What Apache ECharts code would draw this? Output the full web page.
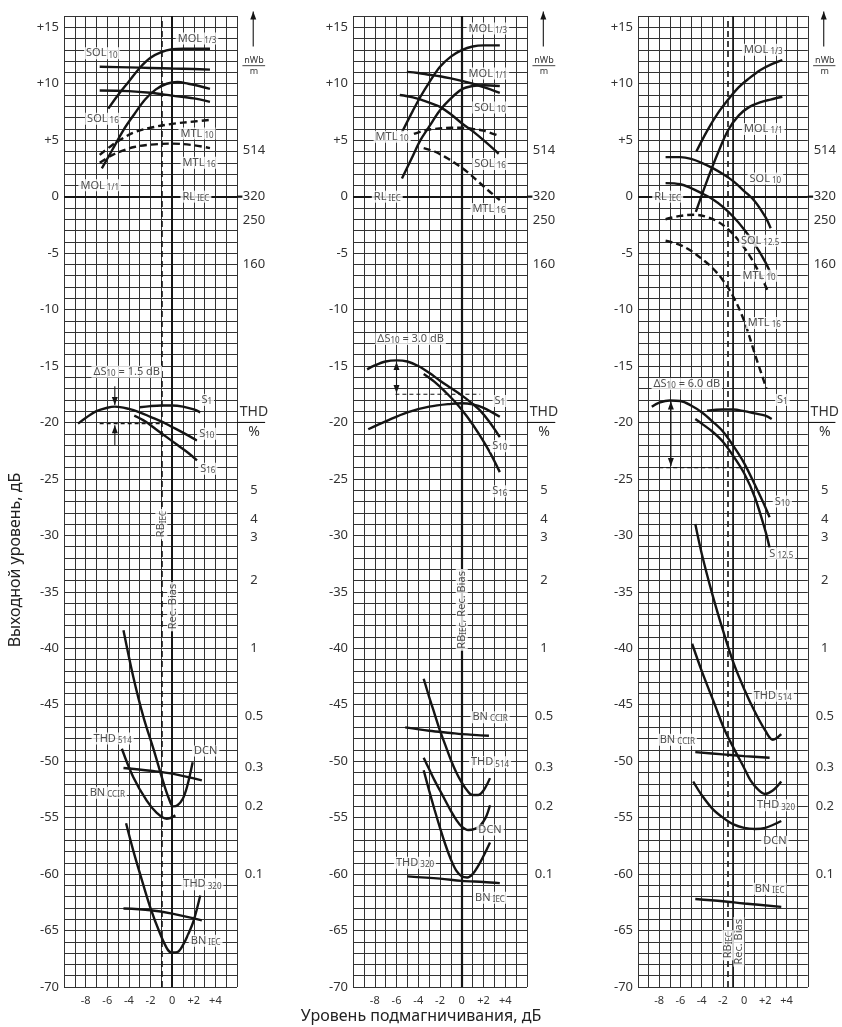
<!DOCTYPE html>
<html>
<head>
<meta charset="utf-8">
<script src="https://cdn.jsdelivr.net/npm/echarts@6/dist/echarts.min.js"></script>
<style>
html, body { margin: 0; padding: 0; background: #fff; }
#chart { width: 842px; height: 1027px; }
</style>
</head>
<body>
<div id="chart"></div>
<script>
// ---- data (dB of bias vs output level) ----
// panel 1
const p1Mol13 = [[-5.9,7.8],[-5,9],[-4,10.2],[-3,11.4],[-2,12.3],[-1,12.8],[0,13.05],[1,13.1],[2,13.1],[3.5,13.1]];
const p1Sol10 = [[-6.7,11.5],[-4,11.45],[-2,11.4],[0,11.35],[2,11.3],[3.5,11.25]];
const p1Sol16 = [[-6.7,9.4],[-4,9.35],[-2,9.2],[0,8.95],[2,8.7],[3.5,8.4]];
const p1Mol11 = [[-6.5,2.5],[-5.5,4.2],[-4.5,5.9],[-3.5,7.3],[-2.5,8.6],[-1.5,9.5],[-0.5,10.0],[0.5,10.15],[1.5,10.0],[2.5,9.8],[3.5,9.55]];
const p1Mtl10 = [[-6.7,3.7],[-5.5,4.6],[-4.5,5.2],[-3.5,5.7],[-2,6.1],[0,6.45],[2,6.65],[3.5,6.8]];
const p1Mtl16 = [[-6.7,3.0],[-5.5,3.7],[-4.5,4.1],[-3.5,4.4],[-2,4.6],[0,4.7],[2,4.55],[3.5,4.3]];
const p1S1 = [[-3,-18.65],[-2,-18.55],[-1,-18.5],[0,-18.5],[1,-18.6],[2,-18.85],[2.6,-19.1]];
const p1S10 = [[-8.7,-20.1],[-8,-19.6],[-7,-19.0],[-6,-18.7],[-5.3,-18.6],[-4,-18.8],[-3,-19.1],[-2,-19.5],[-1,-19.9],[0,-20.4],[1,-20.9],[2.3,-21.6]];
const p1S16 = [[-3.5,-19.4],[-2.5,-19.9],[-1.5,-20.6],[-0.5,-21.3],[0.5,-22.0],[1.5,-22.7],[2.3,-23.35]];
const p1Thd514 = [[-4.5,-38.4],[-3.6,-42.5],[-2.65,-46.1],[-1.7,-49.0],[-0.8,-51.9],[-0.3,-53.3],[0.1,-54.0],[0.5,-53.9],[1.0,-53.3],[1.4,-52.2],[1.9,-50.1]];
const p1Dcn = [[-4.65,-48.9],[-3.6,-51.4],[-2.35,-53.5],[-1.4,-54.6],[-0.5,-55.1],[0.3,-54.8]];
const p1BnCcir = [[-4.5,-50.6],[-2,-50.85],[0,-51.1],[2.75,-51.7]];
const p1Thd320 = [[-4.26,-55.5],[-3.6,-57.9],[-2.96,-60],[-2.04,-62.9],[-1.1,-65.3],[-0.4,-66.7],[0,-66.95],[0.5,-66.9],[1.05,-66.2],[1.5,-65.3],[2.0,-64.1],[2.6,-61.9]];
const p1BnIec = [[-4.5,-63.05],[-2,-63.2],[0,-63.5],[2.75,-64.1]];

// panel 2
const p2Mol13 = [[-5.5,5.7],[-4.5,7.6],[-3.8,8.85],[-3,10.1],[-2,11.5],[-1,12.4],[0,12.97],[1,13.3],[2,13.4],[3.5,13.4]];
const p2Mol11 = [[-5.5,1.6],[-4.5,3.6],[-3.8,5.0],[-3,6.2],[-2,7.65],[-1,8.7],[0,9.5],[1,9.8],[2,9.87],[3.5,9.8]];
const p2Sol10 = [[-5.05,11.05],[-4,10.95],[-3,10.8],[-2,10.66],[-1,10.47],[0,10.25],[1,10.0],[2,9.7],[3.5,9.2]];
const p2Sol16 = [[-5.7,9.0],[-4.5,8.8],[-3.5,8.5],[-2.5,8.15],[-2,7.95],[-1,7.3],[0,6.5],[1,5.8],[2,5.0],[3.4,3.8]];
const p2Mtl10 = [[-4.4,5.55],[-3.5,5.85],[-2.5,6.0],[-1,6.1],[0,6.1],[1,6.0],[2,5.85],[3.5,5.35]];
const p2Mtl16 = [[-3.5,4.3],[-2.5,4.0],[-1.5,3.5],[-0.5,2.9],[0.5,2.2],[1.5,1.35],[2.5,0.5],[3.5,-0.3]];
const p2S1 = [[-8.6,-20.6],[-7,-19.9],[-5,-19.1],[-3,-18.6],[-1,-18.35],[0,-18.3],[1,-18.4],[2,-18.7],[3.5,-19.5]];
const p2S10 = [[-8.7,-15.3],[-8,-14.95],[-7,-14.6],[-6,-14.5],[-5,-14.6],[-4,-15.0],[-3,-15.6],[-2,-16.3],[-1,-16.95],[0,-17.6],[1,-18.35],[1.7,-18.95],[2.5,-19.9],[3.5,-21.3]];
const p2S16 = [[-3.5,-15.7],[-2.5,-16.4],[-1.5,-17.3],[-0.5,-18.3],[0.5,-19.5],[1.5,-20.9],[2.5,-22.5],[3.5,-24.4]];
const p2BnCcir = [[-5.2,-47.0],[-3,-47.3],[-1,-47.5],[0,-47.6],[2.5,-47.75]];
const p2Thd514 = [[-3.5,-42.7],[-3,-44.3],[-2.5,-45.8],[-2,-47.3],[-1.5,-48.6],[-1,-49.9],[-0.5,-51.0],[0,-51.9],[0.5,-52.6],[1,-53.0],[1.5,-53.0],[2,-52.6],[2.6,-51.5]];
const p2Dcn = [[-3.5,-49.7],[-3,-50.7],[-2.5,-51.7],[-2,-52.6],[-1.5,-53.5],[-1,-54.4],[-0.5,-55.2],[0,-55.8],[0.6,-56.1],[1.2,-56.0],[1.7,-55.7],[2.2,-55.0],[2.6,-53.9]];
const p2Thd320 = [[-3.5,-50.8],[-3,-52.6],[-2.5,-54.3],[-2,-55.9],[-1.5,-57.4],[-1,-58.7],[-0.5,-59.7],[0,-60.2],[0.5,-60.3],[1,-60.0],[1.5,-59.3],[2,-58.4],[2.6,-57.2]];
const p2BnIec = [[-5,-60.2],[-2,-60.4],[0,-60.6],[2,-60.7],[3.5,-60.8]];

// panel 3
const p3Mol13 = [[-4.5,4.0],[-3.5,5.8],[-2.5,7.35],[-1.5,8.6],[-0.5,9.7],[0.5,10.5],[1.5,11.2],[2.5,11.7],[3.6,12.1]];
const p3Mol11 = [[-4.55,-1.35],[-3.5,1.4],[-2.5,3.8],[-1.5,5.9],[-0.5,7.2],[0.5,7.95],[1.5,8.35],[2.5,8.6],[3.6,8.85]];
const p3Sol10 = [[-7.4,3.5],[-6,3.5],[-5,3.35],[-4,3.0],[-3,2.55],[-2,2.0],[-1,1.35],[0,0.5],[1,-0.4],[2,-1.8],[2.5,-2.8]];
const p3Sol125 = [[-7.4,1.2],[-6,1.1],[-5,0.75],[-4,0.3],[-3,-0.2],[-2,-0.9],[-1,-1.8],[0,-2.9],[1,-4.2],[2,-5.8],[2.6,-7.0]];
const p3Mtl10 = [[-7.4,-2.0],[-6,-1.7],[-4.7,-1.6],[-3.5,-1.8],[-2.5,-2.2],[-1.5,-2.9],[-0.5,-3.9],[0.5,-5.2],[1.5,-6.9],[2.3,-8.5]];
const p3Mtl16 = [[-7.4,-3.9],[-6,-4.3],[-5,-4.8],[-4,-5.5],[-3,-6.3],[-2,-7.4],[-1,-8.9],[0,-11.0],[1,-13.9],[2.1,-17.0]];
const p3S1 = [[-3.5,-18.95],[-2,-18.85],[-1,-18.85],[0,-19.0],[1,-19.2],[2,-19.4],[2.6,-19.7]];
const p3S10 = [[-8.7,-18.6],[-8,-18.25],[-7,-18.05],[-6,-18.1],[-5,-18.5],[-4,-19.1],[-3,-19.9],[-2,-20.8],[-1,-22.1],[0,-23.6],[1,-25.5],[2,-27.5],[2.4,-28.4]];
const p3S125 = [[-4.6,-19.7],[-4,-20.1],[-3,-20.8],[-2,-21.7],[-1,-23.0],[0,-24.5],[1,-26.6],[2,-29.6],[2.4,-31.1]];
const p3Thd514 = [[-4.6,-29.0],[-4,-31.6],[-3,-35.2],[-2,-38.4],[-1,-41.3],[0,-43.6],[1,-45.6],[2,-47.3],[2.7,-48.1],[3.5,-47.6]];
const p3Thd320 = [[-4.9,-39.6],[-4,-42.0],[-2.8,-44.9],[-1.9,-47.1],[-0.9,-49.0],[0,-50.6],[0.6,-51.7],[1.3,-52.5],[1.95,-52.9],[2.7,-52.6],[3.5,-51.8]];
const p3BnCcir = [[-4.6,-49.2],[-2,-49.4],[0,-49.55],[2.4,-49.7]];
const p3Dcn = [[-4.8,-51.8],[-4,-53.0],[-3,-54.2],[-2,-55.0],[-1,-55.6],[0,-55.9],[1,-56.0],[2,-55.9],[3.5,-55.3]];
const p3BnIec = [[-4.6,-62.2],[-2,-62.4],[0,-62.6],[3.5,-62.9]];

// bias reference lines per panel
const rbIec = [-1, 0, -1.5];
const recBias = [0, 0, -1.1];

// right-hand scale (flux nWb/m and THD %) at their dB positions
const rightVals = [11.6, 4.1, 0, -2.1, -6, -20, -26, -28.6, -30.2, -34, -40, -46, -50.5, -54, -60];
const rightText = ['{f|nWb}\n{f|m}', '514', '320', '250', '160', '{t|THD}\n{t|%}', '5', '4', '3', '2', '1', '0.5', '0.3', '0.2', '0.1'];

// ---- layout ----
const FONT = 'Noto Sans';
const INK = '#151515';
const grids = [
  { left: 64, top: 16, width: 173, height: 971 },
  { left: 353, top: 16, width: 174, height: 971 },
  { left: 638, top: 16, width: 174, height: 971 }
];

const rich = {
  m: { fontSize: 11, fontFamily: FONT, color: '#222' },
  s: { fontSize: 8, fontFamily: FONT, color: '#222', padding: [4, 0, 0, 0] }
};

function curve(data, i, dashed) {
  return {
    type: 'line', xAxisIndex: i, yAxisIndex: i, data: data,
    smooth: 0.35, symbol: 'none', silent: true, z: 4,
    lineStyle: { color: INK, width: 2.4, type: dashed ? [7, 4] : 'solid' }
  };
}

function notes(list, i) {
  return {
    type: 'scatter', xAxisIndex: i, yAxisIndex: i, symbolSize: 0, silent: true, z: 8, clip: false,
    data: list.map(t => ({
      value: [t[0], t[1]],
      label: {
        show: true, position: 'inside', formatter: t[2], rotate: t[3] || 0,
        backgroundColor: '#fff', padding: [0, 2], rich: rich
      }
    }))
  };
}

// annotation strokes: [x1, y1, x2, y2, width, dashed, arrowAtEnd]
function strokes(list, i) {
  return {
    type: 'custom', xAxisIndex: i, yAxisIndex: i, clip: false, silent: true, z: 6,
    encode: { x: [0, 2], y: [1, 3] },
    data: list,
    renderItem: (params, api) => {
      const a = api.coord([api.value(0), api.value(1)]);
      const b = api.coord([api.value(2), api.value(3)]);
      const w = api.value(4);
      const kids = [{
        type: 'line',
        shape: { x1: a[0], y1: a[1], x2: b[0], y2: b[1] },
        style: { stroke: INK, lineWidth: w, lineDash: api.value(5) ? [4, 3] : null }
      }];
      if (api.value(6)) {
        const dx = b[0] - a[0], dy = b[1] - a[1];
        const L = Math.sqrt(dx * dx + dy * dy) || 1;
        const ux = dx / L, uy = dy / L;
        const len = 8, hw = 3;
        kids.push({
          type: 'polygon',
          shape: { points: [
            [b[0], b[1]],
            [b[0] - ux * len - uy * hw, b[1] - uy * len + ux * hw],
            [b[0] - ux * len + uy * hw, b[1] - uy * len - ux * hw]
          ] },
          style: { fill: INK }
        });
      }
      return { type: 'group', children: kids };
    }
  };
}

// common side marks of every panel
const sideMarks = [
  [6, 0, 6.5, 0, 2.2, 0, 0],
  [6, -20, 8.6, -20, 1.1, 0, 0],
  [6.5, 11.6, 8.6, 11.6, 0.8, 0, 0],
  [7.5, 13.3, 7.5, 16.4, 1.1, 0, 1]
];
const p1Marks = sideMarks.concat([
  [-5.3, -16.8, -5.3, -18.45, 1.1, 0, 1],
  [-5.3, -22.0, -5.3, -20.25, 1.1, 0, 1],
  [-6.7, -20.1, -1.0, -20.1, 1.1, 1, 0]
]);
const p2Marks = sideMarks.concat([
  [-6.0, -16.0, -6.0, -14.65, 1.1, 0, 1],
  [-6.0, -16.0, -6.0, -17.4, 1.1, 0, 1],
  [-6.1, -17.5, 1.7, -17.5, 1.1, 1, 0]
]);
const p3Marks = sideMarks.concat([
  [-6.9, -21.0, -6.9, -18.15, 1.1, 0, 1],
  [-6.9, -21.0, -6.9, -23.85, 1.1, 0, 1],
  [-8.0, -24.0, 0.6, -24.0, 1.1, 1, 0]
]);

function frame(i, extra) {
  return {
    type: 'line', xAxisIndex: i, yAxisIndex: i, data: [], clip: false, z: 5,
    markLine: {
      silent: true, animation: false, symbol: ['none', 'none'], label: { show: false },
      data: [{ yAxis: 0, lineStyle: { color: INK, width: 2.2, type: 'solid' } }].concat(extra)
    }
  };
}

const p1Notes = [
  [2.3, 14.0, '{m|MOL}{s| 1/3}'], [-6.5, 12.7, '{m|SOL}{s| 10}'], [-6.4, 6.9, '{m|SOL}{s| 16}'],
  [2.3, 5.6, '{m|MTL}{s| 10}'], [2.5, 3.0, '{m|MTL}{s| 16}'], [-6.7, 1.0, '{m|MOL}{s| 1/1}'],
  [2.2, 0, '{m|RL}{s| IEC}'], [-4.2, -15.5, '{m|ΔS}{s|10}{m| = 1.5 dB}'],
  [3.2, -18.0, '{m|S}{s|1}'], [3.2, -21.0, '{m|S}{s|10}'], [3.3, -24.1, '{m|S}{s|16}'],
  [-5.5, -48.0, '{m|THD}{s| 514}'], [3.1, -49.1, '{m|DCN}'], [-6.0, -52.8, '{m|BN}{s| CCIR}'],
  [2.8, -60.9, '{m|THD}{s| 320}'], [3.1, -65.9, '{m|BN}{s| IEC}'],
  [-1.0, -29.0, '{m|RB}{s|IEC}', 90], [0.05, -36.3, '{m|Rec. Bias}', 90]
];
const p2Notes = [
  [2.4, 14.9, '{m|MOL}{s| 1/3}'], [2.4, 10.9, '{m|MOL}{s| 1/1}'], [2.6, 7.9, '{m|SOL}{s| 10}'],
  [-6.4, 5.3, '{m|MTL}{s| 10}'], [2.6, 2.9, '{m|SOL}{s| 16}'], [-6.85, 0, '{m|RL}{s| IEC}'],
  [2.5, -1.1, '{m|MTL}{s| 16}'], [-4.7, -12.6, '{m|ΔS}{s|10}{m| = 3.0 dB}'],
  [3.5, -18.1, '{m|S}{s|1}'], [3.5, -22.1, '{m|S}{s|10}'], [3.5, -26.1, '{m|S}{s|16}'],
  [2.6, -46.1, '{m|BN}{s| CCIR}'], [2.6, -50.1, '{m|THD}{s| 514}'], [2.6, -56.1, '{m|DCN}'],
  [-4.3, -59.0, '{m|THD}{s| 320}'], [2.6, -62.1, '{m|BN}{s| IEC}'],
  [0, -36.6, '{m|RB}{s|IEC}{m|, Rec. Bias}', 90]
];
const p3Notes = [
  [1.8, 13.0, '{m|MOL}{s| 1/3}'], [1.8, 6.0, '{m|MOL}{s| 1/1}'], [2.0, 1.6, '{m|SOL}{s| 10}'],
  [-7.2, 0, '{m|RL}{s| IEC}'], [1.5, -3.9, '{m|SOL}{s| 12.5}'], [1.4, -7.0, '{m|MTL}{s| 10}'],
  [1.9, -11.2, '{m|MTL}{s| 16}'], [-5.4, -16.6, '{m|ΔS}{s|10}{m| = 6.0 dB}'],
  [3.6, -18.0, '{m|S}{s|1}'], [3.6, -27.0, '{m|S}{s|10}'], [3.5, -31.6, '{m|S}{s| 12.5}'],
  [2.7, -44.2, '{m|THD}{s| 514}'], [-6.3, -48.1, '{m|BN}{s| CCIR}'], [3.0, -53.9, '{m|THD}{s| 320}'],
  [2.9, -57.1, '{m|DCN}'], [2.4, -61.3, '{m|BN}{s| IEC}'],
  [-1.55, -66.3, '{m|RB}{s|IEC}', 90], [-0.5, -66.0, '{m|Rec. Bias}', 90]
];

function xAxisFor(i) {
  return {
    gridIndex: i, type: 'value', min: -10, max: 6, interval: 1,
    axisLine: { show: false }, axisTick: { show: false },
    splitLine: { show: true, lineStyle: { color: '#333', width: 1 } },
    axisLabel: {
      margin: 8, fontSize: 11, fontFamily: FONT, color: '#333',
      formatter: v => (v % 2 === 0 && v >= -8 && v <= 4) ? (v > 0 ? '+' + v : String(v)) : ''
    }
  };
}
function yAxisFor(i) {
  return {
    gridIndex: i, type: 'value', min: -70, max: 16, interval: 1,
    axisLine: { show: false }, axisTick: { show: false },
    splitLine: { show: true, lineStyle: { color: '#333', width: 1 } },
    axisLabel: {
      margin: 5, fontSize: 13, fontFamily: FONT, color: '#333',
      formatter: v => (v % 5 === 0 && v <= 15) ? (v > 0 ? '+' + v : String(v)) : ''
    }
  };
}
function rightAxisFor(i) {
  return {
    gridIndex: i, type: 'value', min: -70, max: 16, position: 'right',
    axisLine: { show: false }, axisTick: { show: false }, splitLine: { show: false },
    axisLabel: {
      customValues: rightVals, margin: 17, align: 'center',
      fontSize: 13, fontFamily: FONT, color: '#333',
      formatter: v => {
        let k = 0;
        rightVals.forEach((r, j) => { if (Math.abs(r - v) < Math.abs(rightVals[k] - v)) k = j; });
        return rightText[k];
      },
      rich: {
        f: { fontSize: 9, fontFamily: FONT, color: '#333', lineHeight: 11 },
        t: { fontSize: 14, fontFamily: FONT, color: '#333', lineHeight: 20 }
      }
    }
  };
}

const chart = echarts.init(document.getElementById('chart'), null, { renderer: 'canvas' });

const option = {
  animation: false,
  backgroundColor: '#fff',
  grid: grids,
  xAxis: [0, 1, 2].map(xAxisFor),
  yAxis: [0, 1, 2].map(yAxisFor).concat([0, 1, 2].map(rightAxisFor)),
  graphic: [
    {
      type: 'text', x: 15, y: 560, rotation: Math.PI / 2,
      style: { text: 'Выходной уровень, дБ', font: '16px "Noto Sans"', fill: '#222', align: 'center', verticalAlign: 'middle' }
    },
    {
      type: 'text', x: 421, y: 1016,
      style: { text: 'Уровень подмагничивания, дБ', font: '16px "Noto Sans"', fill: '#222', align: 'center', verticalAlign: 'middle' }
    }
  ],
  series: [
    // panel 1
    curve(p1Mol13, 0), curve(p1Sol10, 0), curve(p1Sol16, 0), curve(p1Mol11, 0),
    curve(p1Mtl10, 0, true), curve(p1Mtl16, 0, true),
    curve(p1S1, 0), curve(p1S10, 0), curve(p1S16, 0),
    curve(p1Thd514, 0), curve(p1Dcn, 0), curve(p1BnCcir, 0), curve(p1Thd320, 0), curve(p1BnIec, 0),
    frame(0, [
      { xAxis: recBias[0], lineStyle: { color: INK, width: 2, type: 'solid' } },
      { xAxis: rbIec[0], lineStyle: { color: INK, width: 1.6, type: [6, 4] } }
    ]),
    strokes(p1Marks, 0),
    notes(p1Notes, 0),

    // panel 2
    curve(p2Mol13, 1), curve(p2Mol11, 1), curve(p2Sol10, 1), curve(p2Sol16, 1),
    curve(p2Mtl10, 1, true), curve(p2Mtl16, 1, true),
    curve(p2S1, 1), curve(p2S10, 1), curve(p2S16, 1),
    curve(p2BnCcir, 1), curve(p2Thd514, 1), curve(p2Dcn, 1), curve(p2Thd320, 1), curve(p2BnIec, 1),
    frame(1, [
      { xAxis: recBias[1], lineStyle: { color: INK, width: 2.2, type: 'solid' } }
    ]),
    strokes(p2Marks, 1),
    notes(p2Notes, 1),

    // panel 3
    curve(p3Mol13, 2), curve(p3Mol11, 2), curve(p3Sol10, 2), curve(p3Sol125, 2),
    curve(p3Mtl10, 2, true), curve(p3Mtl16, 2, true),
    curve(p3S1, 2), curve(p3S10, 2), curve(p3S125, 2),
    curve(p3Thd514, 2), curve(p3Thd320, 2), curve(p3BnCcir, 2), curve(p3Dcn, 2), curve(p3BnIec, 2),
    frame(2, [
      { xAxis: rbIec[2], lineStyle: { color: INK, width: 1.6, type: [6, 4] } },
      { xAxis: recBias[2], lineStyle: { color: INK, width: 1.6, type: 'solid' } }
    ]),
    strokes(p3Marks, 2),
    notes(p3Notes, 2)
  ]
};

chart.setOption(option);
</script>
</body>
</html>
